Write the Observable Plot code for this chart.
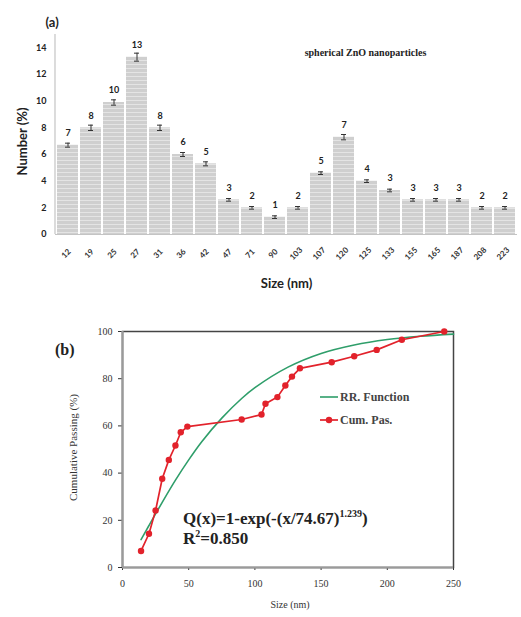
<!DOCTYPE html>
<html><head><meta charset="utf-8">
<script src="https://cdn.jsdelivr.net/npm/d3@7"></script>
<script src="https://cdn.jsdelivr.net/npm/@observablehq/plot@0.6"></script>
<style>
body{margin:0;background:#fff;}
#wrap{width:521px;}
svg{display:block;}
</style>
</head><body><div id="wrap"></div>
<script>
// ---- Panel (a): size distribution ----
const sizeLabels = ["12","19","25","27","31","36","42","47","71","90","103","107","120","125","133","155","165","187","208","223"];
const numberPct = [6.7, 8.0, 9.9, 13.3, 8.0, 6.0, 5.3, 2.6, 2.0, 1.3, 2.0, 4.6, 7.3, 4.0, 3.3, 2.6, 2.6, 2.6, 2.0, 2.0];
const numberLabels = [7, 8, 10, 13, 8, 6, 5, 3, 2, 1, 2, 5, 7, 4, 3, 3, 3, 3, 2, 2];
const errPct = [0.15, 0.2, 0.2, 0.3, 0.2, 0.15, 0.15, 0.1, 0.1, 0.1, 0.1, 0.1, 0.2, 0.1, 0.1, 0.1, 0.1, 0.1, 0.1, 0.1];
const yTicksA = [0, 2, 4, 6, 8, 10, 12, 14];

// ---- Panel (b): cumulative passing ----
const cumSize = [14, 20, 25, 30, 35, 40, 44, 49, 90, 105, 108, 117, 123, 128, 134, 158, 175, 192, 211, 243];
const cumPass = [7, 14.3, 24.2, 37.6, 45.6, 51.7, 57.3, 59.7, 62.7, 64.8, 69.4, 72.2, 77.1, 80.9, 84.4, 87.0, 89.5, 92.2, 96.5, 100];
const rrSize = [14, 20, 30, 40, 50, 60, 75, 90, 100, 125, 150, 175, 200, 225, 250];
const rrPass = [11.8, 17.8, 27.6, 37.0, 45.6, 53.4, 63.3, 71.6, 76.2, 84.9, 90.7, 94.3, 96.6, 98.0, 98.9];
const xTicksB = [0, 50, 100, 150, 200, 250];
const yTicksB = [0, 20, 40, 60, 80, 100];

const barData = sizeLabels.map((s, i) => ({size: s, value: numberPct[i], label: numberLabels[i], err: errPct[i]}));
const cumData = cumSize.map((s, i) => ({size: s, pass: cumPass[i]}));
const rrData = rrSize.map((s, i) => ({size: s, pass: rrPass[i]}));

const sansA = "Lato, 'Open Sans', sans-serif";
const serif = "'Liberation Serif', 'DejaVu Serif', serif";

const chartA = Plot.plot({
  width: 521, height: 300,
  marginLeft: 55, marginRight: 4, marginTop: 34, marginBottom: 66,
  style: {fontFamily: sansA, fontWeight: "bold", fontSize: "9px", color: "#222", background: "white"},
  x: {type: "band", domain: sizeLabels, paddingInner: 0.1, paddingOuter: 0.03, axis: null},
  y: {domain: [0, 15], ticks: yTicksA, tickSize: 0, tickPadding: 9, label: null},
  marks: [
    Plot.barY(barData, {x: "size", y: "value", fill: "url(#barStripes)"}),
    Plot.ruleY([0], {stroke: "#c4c4c4", strokeWidth: 1.2}),
    Plot.ruleX(barData, {x: "size", y1: d => d.value - d.err, y2: d => d.value + d.err, stroke: "#333"}),
    Plot.tickY(barData, {x: "size", y: d => d.value + d.err, stroke: "#333", insetLeft: 8, insetRight: 8}),
    Plot.tickY(barData, {x: "size", y: d => d.value - d.err, stroke: "#333", insetLeft: 8, insetRight: 8}),
    Plot.text(barData, {x: "size", y: "value", text: "label", dy: -12, fontSize: 9, fill: "#222"}),
    Plot.text(barData, {x: "size", text: "size", frameAnchor: "bottom", textAnchor: "middle", dy: 21, rotate: -45, fontSize: 8, fill: "#333"}),
    Plot.text(["Size (nm)"], {frameAnchor: "bottom", textAnchor: "middle", dy: 53, fontSize: 13, fill: "#222"}),
    Plot.text(["Number (%)"], {frameAnchor: "left", textAnchor: "middle", dx: -33, dy: 7, rotate: -90, fontSize: 13, fill: "#222"}),
    Plot.text(["(a)"], {frameAnchor: "top-left", textAnchor: "start", dx: -10, dy: -17, fontSize: 13, fill: "#222"}),
    Plot.text(["spherical ZnO nanoparticles"], {frameAnchor: "top-left", textAnchor: "middle", dx: 310, dy: 14, fontSize: 10, fontFamily: serif, fill: "#222"})
  ]
});

d3.select(chartA).insert("defs", ":first-child").html(
  '<pattern id="barStripes" patternUnits="userSpaceOnUse" width="6" height="4">' +
  '<rect width="6" height="4" fill="#cfcfcf"/><rect width="6" height="1" fill="#e4e4e4"/></pattern>');
{
  const ys = chartA.scale("y");
  d3.select(chartA).append("line")
    .attr("x1", 55).attr("x2", 55).attr("y1", ys.range[1]).attr("y2", ys.range[0])
    .attr("stroke", "#c4c4c4").attr("stroke-width", 1.2);
}

const chartB = Plot.plot({
  width: 521, height: 317,
  marginLeft: 122, marginRight: 68, marginTop: 31, marginBottom: 50,
  style: {fontFamily: serif, fontSize: "10px", color: "#333", background: "white"},
  x: {domain: [0, 250], ticks: xTicksB, tickSize: 3, tickPadding: 9, label: null},
  y: {domain: [0, 100], ticks: yTicksB, tickSize: 4, tickPadding: 6, label: null},
  marks: [
    Plot.frame({stroke: "#444", strokeWidth: 1.5}),
    Plot.ruleX([0], {stroke: "#9a9a9a", strokeWidth: 2.2}),
    Plot.ruleY([0], {stroke: "#9a9a9a", strokeWidth: 2.2}),
    Plot.line(rrData, {x: "size", y: "pass", stroke: "#2f9e6a", strokeWidth: 1.6, curve: "catmull-rom"}),
    Plot.line(cumData, {x: "size", y: "pass", stroke: "#e2222b", strokeWidth: 1.7}),
    Plot.dot(cumData, {x: "size", y: "pass", fill: "#e2222b", r: 3.2}),
    Plot.text(["Cumulative Passing (%)"], {frameAnchor: "left", textAnchor: "middle", dx: -49, dy: -2, rotate: -90, fontSize: 11, fill: "#333"}),
    Plot.text(["Size (nm)"], {frameAnchor: "bottom", textAnchor: "middle", dx: 2, dy: 40, fontSize: 10, fill: "#333"})
  ]
});

{
  const s = d3.select(chartB);
  const t = s.append("g").attr("font-family", serif).attr("fill", "#222").attr("text-anchor", "start");
  t.append("text").attr("x", 55).attr("y", 55).attr("font-size", 16).attr("font-weight", "bold").text("(b)");
  // legend
  t.append("line").attr("x1", 320).attr("x2", 338).attr("y1", 97).attr("y2", 97).attr("stroke", "#2f9e6a").attr("stroke-width", 1.6);
  t.append("text").attr("x", 340).attr("y", 101).attr("font-size", 12).attr("font-weight", "bold").attr("fill", "#444").text("RR. Function");
  t.append("line").attr("x1", 320).attr("x2", 338).attr("y1", 120).attr("y2", 120).attr("stroke", "#e2222b").attr("stroke-width", 1.7);
  t.append("circle").attr("cx", 329).attr("cy", 120).attr("r", 3.2).attr("fill", "#e2222b");
  t.append("text").attr("x", 340).attr("y", 124).attr("font-size", 12).attr("font-weight", "bold").attr("fill", "#444").text("Cum. Pas.");
  // equation
  const eq = t.append("text").attr("x", 183).attr("y", 224).attr("font-size", 17).attr("font-weight", "bold");
  eq.append("tspan").text("Q(x)=1-exp(-(x/74.67)");
  eq.append("tspan").attr("font-size", 10).attr("dy", -7).text("1.239");
  eq.append("tspan").attr("dy", 7).text(")");
  const r2 = t.append("text").attr("x", 183).attr("y", 244).attr("font-size", 17).attr("font-weight", "bold");
  r2.append("tspan").text("R");
  r2.append("tspan").attr("font-size", 10).attr("dy", -7).text("2");
  r2.append("tspan").attr("dy", 7).text("=0.850");
}

document.getElementById("wrap").append(chartA, chartB);
</script>
</body></html>
